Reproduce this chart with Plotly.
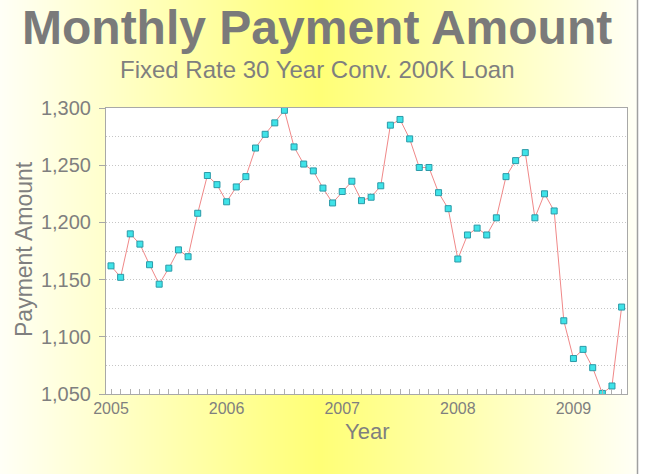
import base64
import struct
import zlib

import plotly.graph_objects as go

# ---------------- data ----------------
years = ["2005", "2006", "2007", "2008", "2009"]
month_names = ["01", "02", "03", "04", "05", "06", "07", "08", "09", "10", "11", "12"]
months = [f"{y}-{m}" for y in years for m in month_names][:54]

payment_2005 = [1162, 1152, 1190, 1181, 1163, 1146, 1160, 1176, 1170, 1208, 1241, 1233]
payment_2006 = [1218, 1231, 1240, 1265, 1277, 1287, 1298, 1266, 1251, 1245, 1230, 1217]
payment_2007 = [1227, 1236, 1219, 1222, 1232, 1285, 1290, 1273, 1248, 1248, 1226, 1212]
payment_2008 = [1168, 1189, 1195, 1189, 1204, 1240, 1254, 1261, 1204, 1225, 1210, 1114]
payment_2009 = [1081, 1089, 1073, 1050.5, 1057, 1126]
payments = payment_2005 + payment_2006 + payment_2007 + payment_2008 + payment_2009

y_tick_values = [1050, 1100, 1150, 1200, 1250, 1300]
x_tick_text = [m[:4] if m.endswith("-01") else "" for m in months]

TITLE = "Monthly Payment Amount"
SUBTITLE = "Fixed Rate 30 Year Conv. 200K Loan"
X_TITLE = "Year"
Y_TITLE = "Payment Amount"

# ---------------- layout geometry ----------------
W, H = 660, 474
L, R, T, B = 106, 33, 108, 80
PW, PH = W - L - R, H - T - B
CANVAS_W = 638  # width of the gradient canvas (gray border at right)


def px_x(px):
    return (px - L) / PW


def px_y(py):
    return (H - B - py) / PH


# ---------------- background gradient image ----------------
def gradient_png(width, height):
    peak = (255, 255, 118)
    edge = (255, 255, 246)
    center = (width - 1) / 2.0
    row = bytearray()
    for i in range(width):
        t = min(1.0, abs(i - center) / center)
        c = [int(round(peak[k] + (edge[k] - peak[k]) * t)) for k in range(3)]
        row += bytes(c)
    raw = b"".join(b"\x00" + bytes(row) for _ in range(height))

    def chunk(tag, data):
        return (struct.pack(">I", len(data)) + tag + data
                + struct.pack(">I", zlib.crc32(tag + data) & 0xffffffff))

    png = b"\x89PNG\r\n\x1a\n"
    png += chunk(b"IHDR", struct.pack(">IIBBBBB", width, height, 8, 2, 0, 0, 0))
    png += chunk(b"IDAT", zlib.compress(raw, 9))
    png += chunk(b"IEND", b"")
    return "data:image/png;base64," + base64.b64encode(png).decode()


grad_src = gradient_png(CANVAS_W, 4)

GRAY = "#7f7f7f"
FONT = "Liberation Sans, Arial, sans-serif"
GRID = "#c6c6c6"
GRID_DASH = "1px,2px"

fig = go.Figure()
fig.add_trace(go.Scatter(
    x=months,
    y=payments,
    mode="lines+markers",
    line=dict(color="#f08888", width=1),
    marker=dict(symbol="square", size=6, color="#3fe3e8",
                line=dict(color="#2b9aa8", width=1)),
    hoverinfo="x+y",
    showlegend=False,
))

fig.update_layout(
    width=W,
    height=H,
    margin=dict(l=L, r=R, t=T, b=B, pad=0),
    paper_bgcolor="white",
    plot_bgcolor="white",
    font=dict(family=FONT, color=GRAY),
    images=[dict(
        source=grad_src, xref="paper", yref="paper",
        x=px_x(0), y=px_y(0), sizex=CANVAS_W / PW, sizey=H / PH,
        xanchor="left", yanchor="top", sizing="stretch", layer="below",
    )],
    shapes=[
        dict(type="rect", xref="paper", yref="paper", x0=0, x1=1, y0=0, y1=1,
             fillcolor="white", line=dict(width=0), layer="below"),
        dict(type="line", xref="paper", yref="paper",
             x0=px_x(CANVAS_W - 0.5), x1=px_x(CANVAS_W - 0.5),
             y0=px_y(H), y1=px_y(0),
             line=dict(color="#a0a0a0", width=1.5), layer="above"),
    ],
    annotations=[
        dict(text=f"<b>{TITLE}</b>", xref="paper", yref="paper",
             x=px_x(317), y=px_y(28), xanchor="center", yanchor="middle",
             showarrow=False, font=dict(size=48, color="#7a7a7a", family=FONT)),
        dict(text=SUBTITLE, xref="paper", yref="paper",
             x=px_x(317), y=px_y(70), xanchor="center", yanchor="middle",
             showarrow=False, font=dict(size=24, color=GRAY, family=FONT)),
        dict(text=Y_TITLE, xref="paper", yref="paper",
             x=px_x(24), y=px_y(249), xanchor="center", yanchor="middle",
             textangle=-90, showarrow=False,
             font=dict(size=23, color=GRAY, family=FONT)),
        dict(text=X_TITLE, xref="paper", yref="paper",
             x=0.5, y=px_y(431), xanchor="center", yanchor="middle",
             showarrow=False, font=dict(size=22, color=GRAY, family=FONT)),
    ],
    xaxis=dict(
        type="category",
        range=[-0.52, 53.56],
        tickmode="array",
        tickvals=months,
        ticktext=x_tick_text,
        ticks="inside",
        ticklen=5,
        tickcolor="#b0b0b0",
        tickfont=dict(size=16, color=GRAY),
        showgrid=False,
        showline=True,
        linecolor="#a8a8a8",
        linewidth=1,
        mirror=True,
        zeroline=False,
    ),
    yaxis=dict(
        range=[1050, 1300],
        tickmode="array",
        tickvals=y_tick_values,
        tickformat=",",
        ticks="outside",
        ticklen=6,
        tickcolor="#a8a8a8",
        ticklabelstandoff=4,
        tickfont=dict(size=20, color=GRAY),
        showgrid=True,
        gridcolor=GRID,
        griddash=GRID_DASH,
        gridwidth=1,
        minor=dict(dtick=25, tick0=1050, showgrid=True, gridcolor=GRID,
                   griddash=GRID_DASH, gridwidth=1, ticks=""),
        showline=True,
        linecolor="#a8a8a8",
        linewidth=1,
        mirror=True,
        zeroline=False,
    ),
)

fig.write_html(
    "out.html",
    config={"displayModeBar": False},
    post_script="document.body.style.margin='0';document.body.style.overflow='hidden';",
)
